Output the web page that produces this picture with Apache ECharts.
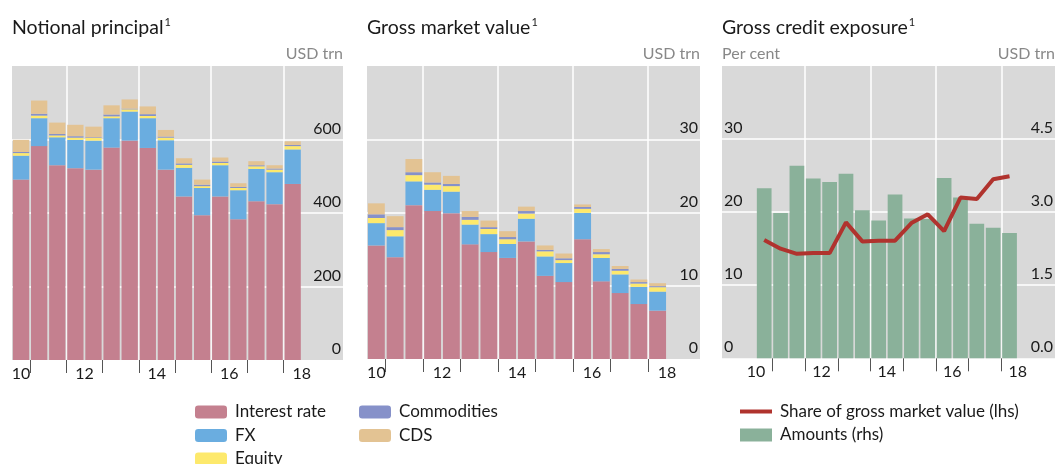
<!DOCTYPE html>
<html><head><meta charset="utf-8">
<script src="https://cdn.jsdelivr.net/npm/echarts@6/dist/echarts.min.js"></script>
<style>html,body{margin:0;padding:0;background:#fff}#c{width:1056px;height:464px}</style>
</head><body><div id="c"></div>
<script>
// ---- data ----
const periods = ['2010 H2','2011 H1','2011 H2','2012 H1','2012 H2','2013 H1','2013 H2','2014 H1','2014 H2','2015 H1','2015 H2','2016 H1','2016 H2','2017 H1','2017 H2','2018 H1'];
const tickYears = [2011,2012,2013,2014,2015,2016,2017,2018];
const gridYears = [2012,2014,2016,2018];
const labelYears = [2010,2012,2014,2016,2018];
const yearLabels = ['10','12','14','16','18'];

// Notional principal, USD trn
const npIR  = [491,582,530,522,518,578,597,577,518,445,394,445,383,432,424,479];
const npFX  = [65,76,76,77,79,80,79,81,80,78,74,85,79,88,87,94];
const npEq  = [7,7,5,6,7,5,6,6,7,8,5,6,6,7,7,9];
const npCom = [3,5,4,4,2,5,2,5,3,4,4,4,3,3,3,3];
const npCDS = [33,36,31,31,29,25,25,21,18,14,14,11,10,11,9,10];

// Gross market value, USD trn
const gmIR  = [15.5,13.9,21.0,20.2,19.9,15.65,14.6,13.8,16.05,11.35,10.5,16.35,10.6,9.0,7.5,6.6];
const gmFX  = [3.05,2.85,3.25,2.9,2.95,2.7,2.45,1.9,3.1,2.65,2.6,3.6,3.2,2.55,2.35,2.6];
const gmEq  = [0.7,0.85,0.85,0.7,0.75,0.65,0.7,0.65,0.7,0.7,0.4,0.55,0.5,0.5,0.45,0.6];
const gmCom = [0.5,0.4,0.4,0.3,0.3,0.4,0.25,0.3,0.35,0.2,0.25,0.25,0.3,0.25,0.2,0.15];
const gmCDS = [1.5,1.5,1.8,1.4,1.1,0.8,0.9,0.8,0.6,0.6,0.65,0.35,0.4,0.4,0.35,0.4];

// Gross credit exposure
const gceShare = [16.2,15.0,14.3,14.4,14.4,18.6,16.0,16.1,16.1,18.5,19.7,17.4,22.0,21.8,24.5,24.9]; // per cent
const gceAmt   = [3.49,2.98,3.95,3.69,3.62,3.79,3.04,2.83,3.36,2.87,2.86,3.70,3.30,2.76,2.68,2.57]; // USD trn

const npTicks = [0,200,400,600];
const gmTicks = [0,10,20,30];
const pctTicks = [0,10,20,30];
const usdTicks = [0,1.5,3,4.5];

// ---- styling ----
const FONT = 'Lato';
const C = {ir:'#c4808f', fx:'#6aade0', eq:'#fde96c', com:'#8691c9', cds:'#e3c393', amt:'#8ab19a', share:'#b0332e', bg:'#d9d9d9', text:'#1a1a1a', unit:'#888888'};

function periodX(p){ const s=p.split(' '); return +s[0] + (s[1]==='H1'?0.25:0.75); }
const xs = periods.map(periodX);
// value first, x second (encode maps them) so stacking applies to the value dimension
const pairs = arr => arr.map((v,i)=>[v, xs[i]]);

function makeX(gridIndex, min, max){
  const labelVals = labelYears.map(y => Math.max(y+0.5, min+0.25));
  return [
    {type:'value', gridIndex, min, max, axisLine:{show:false}, splitLine:{show:false},
     axisTick:{show:true, customValues:tickYears, length:13, lineStyle:{color:'#555', width:1}},
     axisLabel:{customValues:labelVals, formatter:v=>yearLabels[labelYears.indexOf(Math.floor(v))],
       fontSize:16, color:C.text, margin:6, fontFamily:FONT}},
    {type:'value', gridIndex, min, max, axisLine:{show:false}, axisLabel:{show:false},
     axisTick:{show:false, customValues:gridYears},
     splitLine:{show:true, lineStyle:{color:'#fff', width:1.5}}}
  ];
}
function makeY(gridIndex, position, max, ticks, name, fmt, showSplit){
  return {type:'value', gridIndex, position, min:0, max,
    name, nameLocation:'end', nameGap:4,
    nameTextStyle:{color:C.unit, fontSize:16, fontFamily:FONT, align:position==='right'?'right':'left', verticalAlign:'bottom', padding:0},
    axisLine:{show:false},
    axisTick:{show:false, customValues:ticks.filter(t=>t>0)},
    axisLabel:{inside:true, customValues:ticks, margin:2, verticalAlign:'bottom', padding:[0,0,3,0], fontSize:16, color:C.text, fontFamily:FONT, formatter:fmt||(v=>String(v))},
    splitLine:{show:showSplit, lineStyle:{color:'#fff', width:1.5}}};
}
function stackBar(name, arr, color, xi, yi, st){
  return {type:'bar', name, data:pairs(arr), encode:{x:1, y:0}, xAxisIndex:xi, yAxisIndex:yi, stack:st, barWidth:'90%',
    itemStyle:{color}, emphasis:{disabled:true}, z:2};
}
function title(text, left){
  return {text:'{t|'+text+'}{s|1}', left, top:17, padding:0,
    textStyle:{rich:{t:{fontSize:19.5, color:C.text, fontFamily:FONT, fontWeight:'normal', lineHeight:22},
      s:{fontSize:11, color:C.text, fontFamily:FONT, fontWeight:'normal', verticalAlign:'top', lineHeight:12, padding:[0,0,0,1]}}}};
}
const legendBase = {orient:'vertical', itemWidth:32, itemHeight:13, itemGap:6.5, padding:0, height:120, selectedMode:false,
  textStyle:{fontSize:17, color:C.text, fontFamily:FONT, lineHeight:16, padding:[0,0,0,3]}};

const option = {
  animation:false,
  textStyle:{fontFamily:FONT},
  title:[title('Notional principal',12), title('Gross market value',367), title('Gross credit exposure',722)],
  legend:[
    Object.assign({}, legendBase, {left:195, top:403.5, data:['Interest rate','FX','Equity']}),
    Object.assign({}, legendBase, {left:359, top:403.5, data:['Commodities','CDS']}),
    Object.assign({}, legendBase, {left:740, top:403, data:[{name:'Share of gross market value (lhs)', icon:'path://M0,0h32v4h-32z'}, {name:'Amounts (rhs)', icon:'rect'}]})
  ],
  grid:[
    {left:12, right:1056-343, top:66, bottom:104, show:true, backgroundColor:C.bg, borderWidth:0},
    {left:367, right:1056-700, top:66, bottom:105, show:true, backgroundColor:C.bg, borderWidth:0},
    {left:722, right:1, top:66, bottom:105.7, show:true, backgroundColor:C.bg, borderWidth:0}
  ],
  xAxis:[].concat(makeX(0,2010.5,2019.64), makeX(1,2010.5,2019.38), makeX(2,2009.46,2019.64)),
  yAxis:[
    makeY(0,'right',800,npTicks,'USD trn',null,true),
    makeY(1,'right',40,gmTicks,'USD trn',null,true),
    makeY(2,'left',40,pctTicks,'Per cent',null,true),
    makeY(2,'right',6,usdTicks,'USD trn',v=>v.toFixed(1),false)
  ],
  series:[
    stackBar('Interest rate', npIR, C.ir, 0, 0, 'np'),
    stackBar('FX', npFX, C.fx, 0, 0, 'np'),
    stackBar('Equity', npEq, C.eq, 0, 0, 'np'),
    stackBar('Commodities', npCom, C.com, 0, 0, 'np'),
    stackBar('CDS', npCDS, C.cds, 0, 0, 'np'),
    stackBar('Interest rate', gmIR, C.ir, 2, 1, 'gm'),
    stackBar('FX', gmFX, C.fx, 2, 1, 'gm'),
    stackBar('Equity', gmEq, C.eq, 2, 1, 'gm'),
    stackBar('Commodities', gmCom, C.com, 2, 1, 'gm'),
    stackBar('CDS', gmCDS, C.cds, 2, 1, 'gm'),
    {type:'bar', name:'Amounts (rhs)', data:pairs(gceAmt), encode:{x:1, y:0}, xAxisIndex:4, yAxisIndex:3, barWidth:'90%', itemStyle:{color:C.amt}, z:2},
    {type:'line', name:'Share of gross market value (lhs)', data:pairs(gceShare), encode:{x:1, y:0}, xAxisIndex:4, yAxisIndex:2,
     symbol:'none', lineStyle:{color:C.share, width:4}, itemStyle:{color:C.share}, z:3}
  ]
};
const chart = echarts.init(document.getElementById('c'), null, {renderer:'canvas'});
chart.setOption(option);
</script></body></html>
